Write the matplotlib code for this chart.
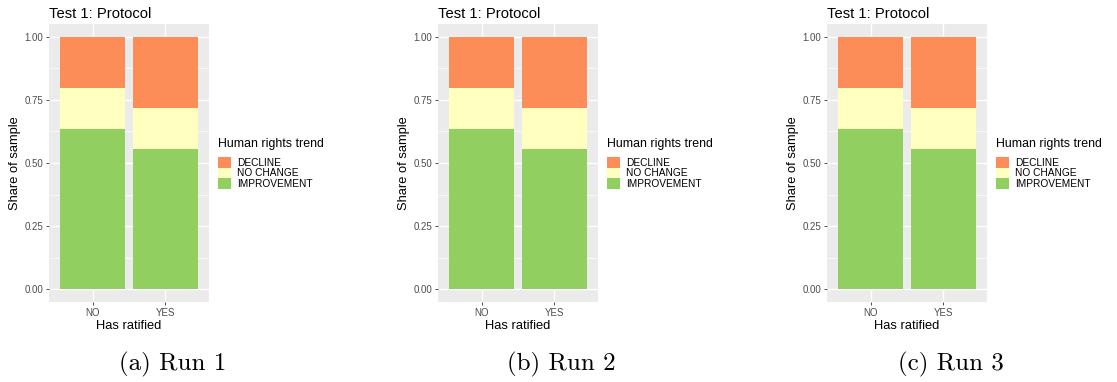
import matplotlib
matplotlib.use("Agg")
import matplotlib.pyplot as plt
from matplotlib.patches import Patch

# data (same for all three runs)
categories = ["NO", "YES"]
improvement = [0.636, 0.557]
no_change = [0.162, 0.161]
decline = [0.202, 0.282]
trend_labels = ["DECLINE", "NO CHANGE", "IMPROVEMENT"]
trend_colors = ["#FC8D59", "#FFFFBF", "#91CF60"]
captions = ["(a) Run 1", "(b) Run 2", "(c) Run 3"]
yticks = [0.0, 0.25, 0.5, 0.75, 1.0]

W, H = 1117, 382
fig = plt.figure(figsize=(W / 100, H / 100), dpi=100)
plt.rcParams['font.family'] = ['Liberation Sans', 'DejaVu Sans']

panel_left = [49, 438, 827]
ptop, pbot, pw = 24, 302, 160

for k, left in enumerate(panel_left):
    ax = fig.add_axes([left / W, 1 - pbot / H, pw / W, (pbot - ptop) / H])
    ax.set_facecolor("#EBEBEB")
    for s in ax.spines.values():
        s.set_visible(False)
    x = [1, 2]
    ax.bar(x, improvement, width=0.9, color=trend_colors[2], zorder=3)
    ax.bar(x, no_change, width=0.9, bottom=improvement, color=trend_colors[1], zorder=3)
    bottom2 = [a + b for a, b in zip(improvement, no_change)]
    ax.bar(x, decline, width=0.9, bottom=bottom2, color=trend_colors[0], zorder=3)
    ax.set_xlim(0.4, 2.6)
    ax.set_ylim(-0.05, 1.05)
    ax.set_xticks(x)
    ax.set_xticklabels(categories)
    ax.set_yticks(yticks)
    ax.set_yticklabels(["%.2f" % v for v in yticks])
    ax.set_yticks([0.125, 0.375, 0.625, 0.875], minor=True)
    ax.tick_params(axis="y", which="minor", length=0)
    ax.tick_params(which="major", length=2.5, width=0.6, color="#333333",
                   labelsize=7, labelcolor="#4D4D4D", pad=1.5)
    ax.grid(True, which="major", color="white", linewidth=1.0, zorder=0)
    ax.grid(True, which="minor", axis="y", color="white", linewidth=0.5, zorder=0)
    ax.set_axisbelow(True)
    ax.set_xlabel("Has ratified", fontsize=9.3, labelpad=2)
    ax.set_ylabel("Share of sample", fontsize=9.3, labelpad=3)
    ax.set_title("Test 1: Protocol", fontsize=10.6, loc="left", pad=4)

    handles = [Patch(facecolor=c, edgecolor="none") for c in trend_colors]
    leg = fig.legend(handles, trend_labels, loc="upper left",
                     bbox_to_anchor=((left + 169) / W, 1 - 138 / H),
                     frameon=False, fontsize=7.3, title="Human rights trend",
                     title_fontsize=8.9, handlelength=1.25, handleheight=1.25,
                     labelspacing=0.0, handletextpad=0.65, borderaxespad=0,
                     borderpad=0, alignment="left")
    leg._legend_box.sep = 5

    fig.text((left + 123.5) / W, 1 - 364 / H, captions[k], fontfamily="cmr10",
             fontsize=18, ha="center", va="center")

fig.savefig("out.png", dpi=100)
